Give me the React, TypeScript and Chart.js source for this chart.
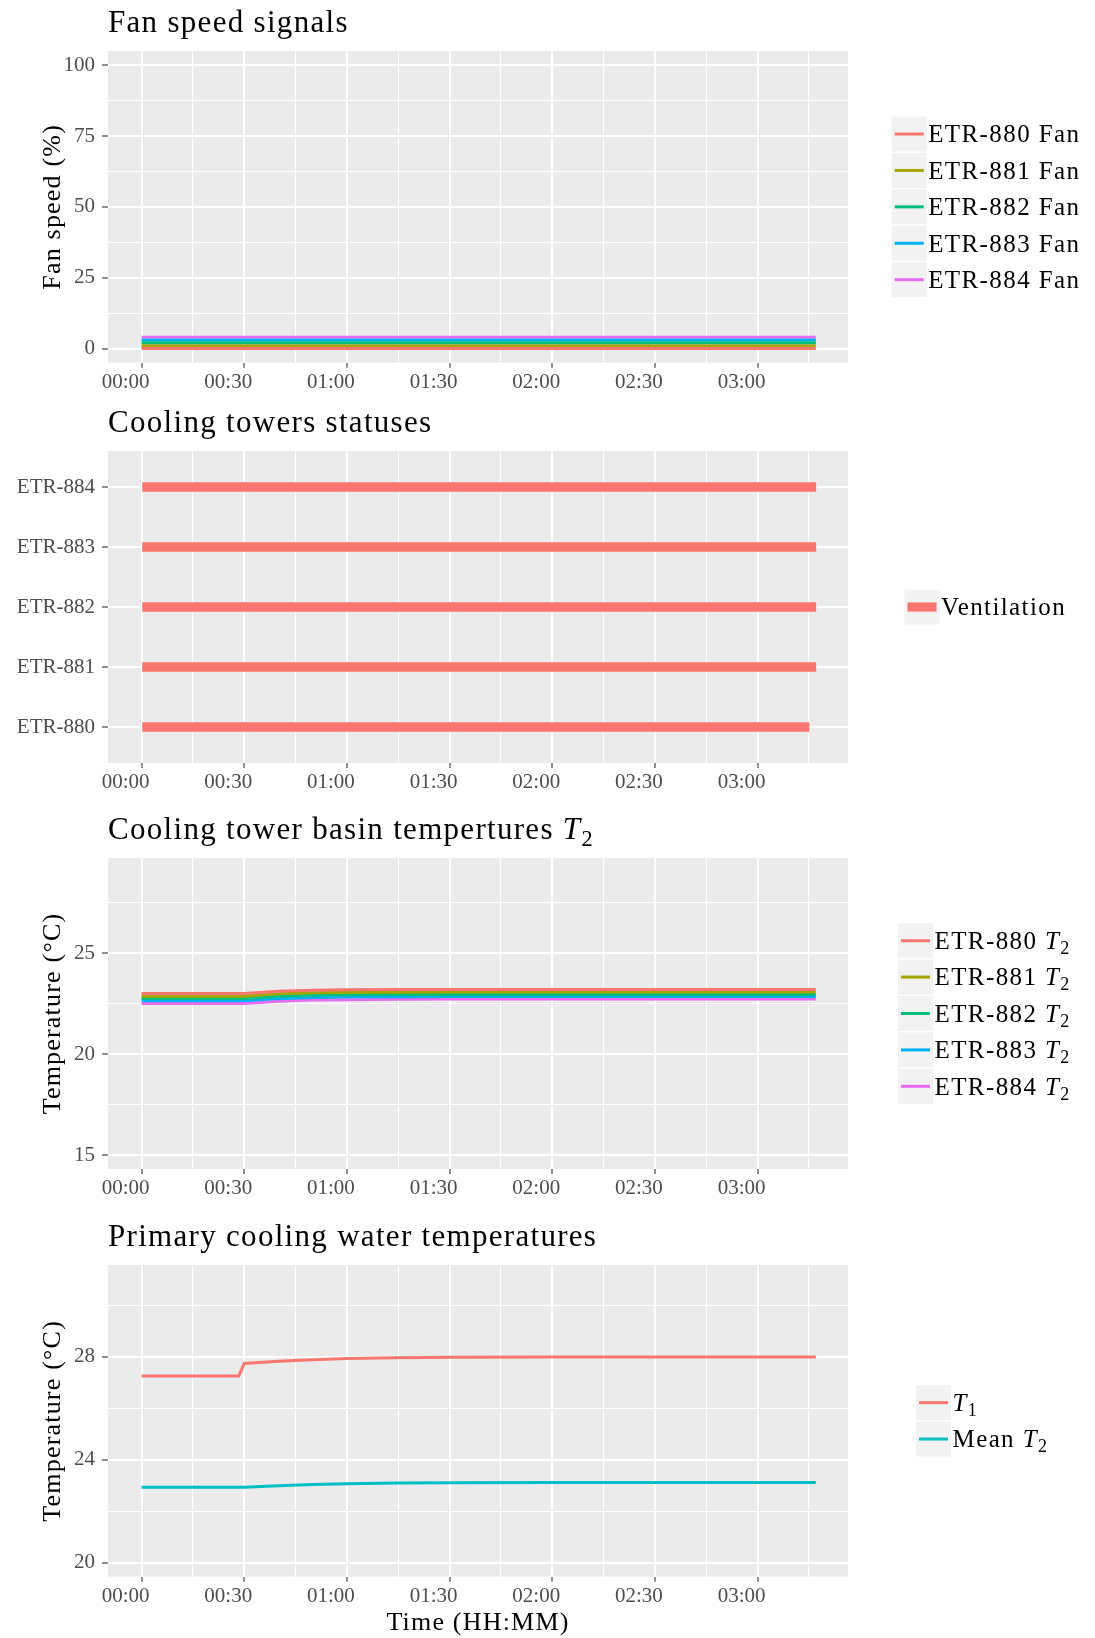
import React, { useEffect, useRef } from 'react';
import { Chart, registerables } from 'chart.js';

Chart.register(...registerables);

const FONT = '"Liberation Serif", "Times New Roman", serif';
const TICK_GREY = '#4D4D4D';
const PANEL_BG = '#EBEBEB';
const KEY_BG = '#F2F2F2';

// Time axis, minutes since 00:00
const TIME_MAJOR = [0, 30, 60, 90, 120, 150, 180];
const TIME_MINOR = [15, 45, 75, 105, 135, 165, 195];
const TIME_LABELS = ['00:00', '00:30', '01:00', '01:30', '02:00', '02:30', '03:00'];
const TIME_MIN = -9.8;
const TIME_MAX = 206.4;

const TOWERS = ['ETR-880', 'ETR-881', 'ETR-882', 'ETR-883', 'ETR-884'];
const TOWER_COLORS = ['#F8766D', '#A3A500', '#00BF7D', '#00B0F6', '#E76BF3'];

// Fan speed signals (%)
const FAN_TIME = [0, 197];
const FAN_880 = [0, 0];
const FAN_881 = [1, 1];
const FAN_882 = [2, 2];
const FAN_883 = [3, 3];
const FAN_884 = [4, 4];
const FAN_Y_MAJOR = [0, 25, 50, 75, 100];
const FAN_Y_MINOR = [12.5, 37.5, 62.5, 87.5];

// Cooling tower statuses (start / end minute of "Ventilation")
const STATUS_START = [0, 0, 0, 0, 0];
const STATUS_END = [195, 197, 197, 197, 197];

// Basin temperatures T2 (°C)
const T2_TIME = [0, 30, 40, 50, 60, 75, 90, 120, 150, 197];
const T2_880 = [23.0, 23.0, 23.12, 23.17, 23.19, 23.2, 23.2, 23.2, 23.2, 23.2];
const T2_881 = [22.87, 22.87, 22.99, 23.04, 23.06, 23.07, 23.08, 23.08, 23.08, 23.08];
const T2_882 = [22.76, 22.76, 22.87, 22.92, 22.94, 22.95, 22.96, 22.96, 22.96, 22.96];
const T2_883 = [22.64, 22.64, 22.75, 22.8, 22.83, 22.84, 22.85, 22.85, 22.85, 22.85];
const T2_884 = [22.51, 22.51, 22.62, 22.68, 22.7, 22.72, 22.73, 22.73, 22.73, 22.73];
const T2_Y_MAJOR = [15, 20, 25];
const T2_Y_MINOR = [17.5, 22.5, 27.5];

// Primary cooling water temperatures (°C)
const PRIM_TIME = [0, 28.4, 30, 40, 50, 60, 75, 90, 120, 150, 197];
const T1 = [27.25, 27.25, 27.74, 27.82, 27.88, 27.93, 27.96, 27.98, 27.99, 27.99, 27.99];
const MEAN_T2 = [22.93, 22.93, 22.93, 22.99, 23.04, 23.07, 23.1, 23.11, 23.12, 23.12, 23.12];
const PRIM_Y_MAJOR = [20, 24, 28];
const PRIM_Y_MINOR = [22, 26, 30];

type Seg = { t: string; it?: boolean; sub?: boolean };

function segWidth(ctx: CanvasRenderingContext2D, segs: Seg[], size: number, spacing: number) {
  let w = 0;
  for (const s of segs) {
    const fs = s.sub ? size * 0.72 : size;
    ctx.font = `${s.it ? 'italic ' : ''}${fs}px ${FONT}`;
    (ctx as any).letterSpacing = `${spacing}px`;
    w += ctx.measureText(s.t).width;
  }
  return w;
}

function drawRich(ctx: CanvasRenderingContext2D, segs: Seg[], x: number, y: number, size: number, spacing: number) {
  let cx = x;
  for (const s of segs) {
    const fs = s.sub ? size * 0.72 : size;
    ctx.font = `${s.it ? 'italic ' : ''}${fs}px ${FONT}`;
    (ctx as any).letterSpacing = `${spacing}px`;
    ctx.fillText(s.t, cx, s.sub ? y + size * 0.2 : y);
    cx += ctx.measureText(s.t).width;
  }
}

type LegendItem = { segs: Seg[]; color: string; kind: 'line' | 'bar' };

// ggplot-like decorations: panel background, title, axis titles, legend
const ggPlugin = {
  id: 'gg',
  beforeDraw(chart: any) {
    const { ctx, chartArea: a } = chart;
    ctx.save();
    ctx.fillStyle = PANEL_BG;
    ctx.fillRect(a.left, a.top, a.right - a.left, a.bottom - a.top);
    ctx.restore();
  },
  afterDraw(chart: any, _args: any, opts: any) {
    const { ctx, chartArea: a } = chart;
    ctx.save();
    ctx.fillStyle = '#000000';
    ctx.textAlign = 'left';
    ctx.textBaseline = 'alphabetic';
    if (opts.title) drawRich(ctx, opts.title, a.left, a.top - 18.7, 31, 1.3);

    if (opts.yTitle) {
      ctx.save();
      ctx.translate(60, (a.top + a.bottom) / 2);
      ctx.rotate(-Math.PI / 2);
      const w = segWidth(ctx, opts.yTitle, 26, 1.2);
      drawRich(ctx, opts.yTitle, -w / 2, 0, 26, 1.2);
      ctx.restore();
    }
    if (opts.xTitle) {
      const w = segWidth(ctx, opts.xTitle, 26, 1.2);
      drawRich(ctx, opts.xTitle, (a.left + a.right) / 2 - w / 2, opts.xTitleY, 26, 1.2);
    }

    const items: LegendItem[] = opts.legend || [];
    if (items.length) {
      const key = 35;
      const pitch = 36.4;
      const total = key + (items.length - 1) * pitch;
      const top0 = (a.top + a.bottom) / 2 - total / 2;
      const kx = opts.legendX;
      items.forEach((it, i) => {
        const ky = top0 + i * pitch;
        ctx.fillStyle = KEY_BG;
        ctx.fillRect(kx, ky, key, key);
        if (it.kind === 'line') {
          ctx.strokeStyle = it.color;
          ctx.lineWidth = 3;
          ctx.beginPath();
          ctx.moveTo(kx + 3, ky + key / 2);
          ctx.lineTo(kx + key - 3, ky + key / 2);
          ctx.stroke();
        } else {
          ctx.fillStyle = it.color;
          ctx.fillRect(kx + 3, ky + key / 2 - 4.6, key - 6, 9.2);
        }
        ctx.fillStyle = '#000000';
        drawRich(ctx, it.segs, kx + key + 1.5, ky + key / 2 + 8.3, 25, 1.4);
      });
    }
    ctx.restore();
  },
};

function gridWidth(major: number[]) {
  return (c: any) => (c.tick && major.includes(c.tick.value) ? 2 : 1);
}
function tickColor(major: number[]) {
  return (c: any) => (c.tick && major.includes(c.tick.value) ? '#333333' : 'rgba(0,0,0,0)');
}

function timeScale(axisHeight: number) {
  return {
    type: 'linear',
    min: TIME_MIN,
    max: TIME_MAX,
    bounds: 'data',
    offset: false,
    afterBuildTicks: (s: any) => {
      s.ticks = [...TIME_MAJOR, ...TIME_MINOR].sort((p, q) => p - q).map((v) => ({ value: v }));
    },
    afterFit: (s: any) => {
      s.height = axisHeight;
    },
    ticks: {
      autoSkip: false,
      maxRotation: 0,
      padding: 2,
      labelOffset: -16,
      color: TICK_GREY,
      font: { family: FONT, size: 21 },
      callback: (v: number) => {
        const i = TIME_MAJOR.indexOf(v);
        return i >= 0 ? TIME_LABELS[i] : '';
      },
    },
    grid: {
      offset: false,
      color: '#FFFFFF',
      lineWidth: gridWidth(TIME_MAJOR),
      tickColor: tickColor(TIME_MAJOR),
      tickLength: 5,
      tickWidth: 1.1,
    },
    border: { display: false },
  };
}

function valueScale(min: number, max: number, major: number[], minor: number[], label: (v: number) => string) {
  return {
    type: 'linear',
    min,
    max,
    bounds: 'data',
    offset: false,
    afterBuildTicks: (s: any) => {
      s.ticks = [...major, ...minor].sort((p, q) => p - q).map((v) => ({ value: v }));
    },
    afterFit: (s: any) => {
      s.width = 108;
    },
    ticks: {
      autoSkip: false,
      padding: 7,
      color: TICK_GREY,
      font: { family: FONT, size: 21 },
      callback: (v: number) => (major.includes(v) ? label(v) : ''),
    },
    grid: {
      offset: false,
      color: '#FFFFFF',
      lineWidth: gridWidth(major),
      tickColor: tickColor(major),
      tickLength: 6,
      tickWidth: 1.1,
    },
    border: { display: false },
  };
}

function baseOptions(padTop: number, axisHeight: number, yScale: any, gg: any) {
  return {
    responsive: false,
    animation: false,
    devicePixelRatio: 1,
    layout: { padding: { top: padTop, right: 247, left: 0, bottom: 0 } },
    elements: { point: { radius: 0 }, line: { borderWidth: 3, tension: 0 } },
    plugins: {
      legend: { display: false },
      tooltip: { enabled: false },
      title: { display: false },
      gg,
    },
    scales: { x: timeScale(axisHeight), y: yScale },
  };
}

function series(times: number[], values: number[]) {
  return times.map((t, i) => ({ x: t, y: values[i] }));
}

function lineDataset(label: string, times: number[], values: number[], color: string) {
  return {
    label,
    data: series(times, values),
    borderColor: color,
    backgroundColor: color,
    borderWidth: 3,
    pointRadius: 0,
    fill: false,
  };
}

const T2 = (prefix: string): Seg[] => [{ t: prefix }, { t: 'T', it: true }, { t: '2', sub: true }];

function buildFan() {
  const fans = [FAN_880, FAN_881, FAN_882, FAN_883, FAN_884];
  return {
    type: 'line',
    data: {
      datasets: TOWERS.map((t, i) => lineDataset(`${t} Fan`, FAN_TIME, fans[i], TOWER_COLORS[i])),
    },
    options: baseOptions(51, 32.3, valueScale(-5, 105, FAN_Y_MAJOR, FAN_Y_MINOR, (v) => String(v)), {
      title: [{ t: 'Fan speed signals' }],
      yTitle: [{ t: 'Fan speed (%)' }],
      legendX: 891.7,
      legend: TOWERS.map((t, i) => ({ segs: [{ t: `${t} Fan` }], color: TOWER_COLORS[i], kind: 'line' })),
    }),
    plugins: [ggPlugin],
  };
}

function buildStatus() {
  const yScale = valueScale(-0.6, 4.6, [0, 1, 2, 3, 4], [], (v) => TOWERS[v]);
  return {
    type: 'bar',
    data: {
      datasets: [
        {
          label: 'Ventilation',
          data: TOWERS.map((_t, i) => ({ x: [STATUS_START[i], STATUS_END[i]], y: i })),
          backgroundColor: '#F8766D',
          borderWidth: 0,
          barThickness: 8.6,
        },
      ],
    },
    options: {
      ...baseOptions(56, 32, yScale, {
        title: [{ t: 'Cooling towers statuses' }],
        legendX: 904.5,
        legend: [{ segs: [{ t: 'Ventilation' }], color: '#F8766D', kind: 'bar' }],
      }),
      indexAxis: 'y',
    },
    plugins: [ggPlugin],
  };
}

function buildBasin() {
  const t2 = [T2_880, T2_881, T2_882, T2_883, T2_884];
  return {
    type: 'line',
    data: {
      datasets: TOWERS.map((t, i) => lineDataset(`${t} T2`, T2_TIME, t2[i], TOWER_COLORS[i])),
    },
    options: baseOptions(63, 31, valueScale(14.33, 29.7, T2_Y_MAJOR, T2_Y_MINOR, (v) => String(v)), {
      title: T2('Cooling tower basin tempertures '),
      yTitle: [{ t: 'Temperature (°C)' }],
      legendX: 898,
      legend: TOWERS.map((t, i) => ({ segs: T2(`${t} `), color: TOWER_COLORS[i], kind: 'line' })),
    }),
    plugins: [ggPlugin],
  };
}

function buildPrimary() {
  return {
    type: 'line',
    data: {
      datasets: [
        lineDataset('T1', PRIM_TIME, T1, '#F8766D'),
        lineDataset('Mean T2', PRIM_TIME, MEAN_T2, '#00BFC4'),
      ],
    },
    options: baseOptions(65, 61.3, valueScale(19.46, 31.56, PRIM_Y_MAJOR, PRIM_Y_MINOR, (v) => String(v)), {
      title: [{ t: 'Primary cooling water temperatures' }],
      yTitle: [{ t: 'Temperature (°C)' }],
      xTitle: [{ t: 'Time (HH:MM)' }],
      xTitleY: 430,
      legendX: 916,
      legend: [
        { segs: [{ t: 'T', it: true }, { t: '1', sub: true }], color: '#F8766D', kind: 'line' },
        { segs: T2('Mean '), color: '#00BFC4', kind: 'line' },
      ],
    }),
    plugins: [ggPlugin],
  };
}

function ChartCanvas({ top, height, build }: { top: number; height: number; build: () => any }) {
  const ref = useRef<HTMLCanvasElement | null>(null);
  useEffect(() => {
    if (!ref.current) return;
    const chart = new Chart(ref.current, build());
    return () => chart.destroy();
  }, [build]);
  return (
    <canvas
      ref={ref}
      width={1095}
      height={height}
      style={{ position: 'absolute', left: 0, top, width: 1095, height, display: 'block' }}
    />
  );
}

export default function App() {
  return (
    <div style={{ position: 'absolute', left: 0, top: 0, width: 1095, height: 1638, background: '#FFFFFF' }}>
      <ChartCanvas top={0} height={395} build={buildFan} />
      <ChartCanvas top={395} height={400} build={buildStatus} />
      <ChartCanvas top={795} height={405} build={buildBasin} />
      <ChartCanvas top={1200} height={438} build={buildPrimary} />
    </div>
  );
}
